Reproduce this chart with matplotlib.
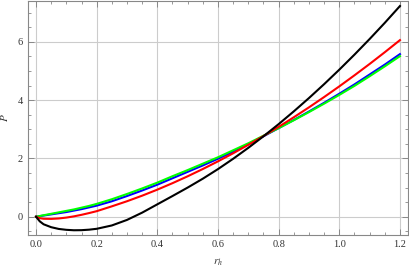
import matplotlib.pyplot as plt
from matplotlib.ticker import MultipleLocator

# values
r_h = [0.0, 0.0125, 0.025, 0.05, 0.075, 0.1, 0.125, 0.15, 0.175, 0.2, 0.25, 0.3, 0.35, 0.4,
       0.45, 0.5, 0.55, 0.6, 0.65, 0.7, 0.75, 0.8, 0.85, 0.9, 0.95, 1.0, 1.05, 1.1, 1.15, 1.2]

p_blue = [0.0, 0.02, 0.04, 0.08, 0.12, 0.16, 0.21, 0.26, 0.32, 0.38, 0.53, 0.71, 0.9, 1.1,
          1.32, 1.54, 1.76, 1.99, 2.23, 2.49, 2.76, 3.04, 3.32, 3.61, 3.91, 4.22, 4.54, 4.88, 5.22, 5.58]
p_green = [0.0, 0.025, 0.05, 0.1, 0.15, 0.2, 0.25, 0.31, 0.37, 0.44, 0.6, 0.78, 0.97, 1.17,
           1.39, 1.6, 1.82, 2.04, 2.28, 2.52, 2.78, 3.04, 3.31, 3.59, 3.88, 4.18, 4.49, 4.82, 5.16, 5.51]
p_red = [0.0, -0.05, -0.07, -0.075, -0.06, -0.03, 0.012, 0.065, 0.125, 0.19, 0.356, 0.531, 0.722, 0.929,
         1.151, 1.387, 1.637, 1.9, 2.177, 2.467, 2.769, 3.084, 3.413, 3.753, 4.107, 4.473, 4.852, 5.242, 5.645, 6.06]
p_black = [0.0, -0.16, -0.26, -0.36, -0.42, -0.45, -0.465, -0.462, -0.445, -0.415, -0.30, -0.11, 0.14, 0.425,
           0.71, 1.0, 1.305, 1.634, 1.988, 2.364, 2.76, 3.177, 3.615, 4.072, 4.549, 5.046, 5.562, 6.098, 6.653, 7.23]

plt.rcParams['font.family'] = ['Liberation Serif', 'DejaVu Serif']
plt.rcParams['mathtext.fontset'] = 'stix'

fig = plt.figure(figsize=(4.09, 2.72), dpi=100)
ax = fig.add_axes([0.0685, 0.136, 0.929, 0.86])

ax.plot(r_h, p_blue, color='#0000ff', lw=1.5)
ax.plot(r_h, p_green, color='#00ff00', lw=1.5)
ax.plot(r_h, p_red, color='#ff0000', lw=1.5)
ax.plot(r_h, p_black, color='black', lw=1.5)

ax.set_xlim(-0.0264, 1.2265)
ax.set_ylim(-0.628, 7.40)

ax.xaxis.set_major_locator(MultipleLocator(0.2))
ax.xaxis.set_minor_locator(MultipleLocator(0.05))
ax.yaxis.set_major_locator(MultipleLocator(2))
ax.yaxis.set_minor_locator(MultipleLocator(0.5))
ax.set_xticks([0, 0.2, 0.4, 0.6, 0.8, 1.0, 1.2])
ax.set_xticklabels(['0.0', '0.2', '0.4', '0.6', '0.8', '1.0', '1.2'])
ax.set_yticks([0, 2, 4, 6])

ax.grid(True, which='major', color='#cccccc', lw=0.8)
ax.set_axisbelow(True)
for s in ax.spines.values():
    s.set_color('#888888')
    s.set_linewidth(0.8)
ax.tick_params(which='both', direction='in', top=True, right=True, colors='#888888',
               labelcolor='#333333', labelsize=7.5)
ax.tick_params(which='major', length=4, width=0.7)
ax.tick_params(which='minor', length=2, width=0.6)

ax.set_xlabel('$r_h$', fontsize=8, color='#333333', labelpad=6)
ax.set_ylabel('$P$', fontsize=8, color='#333333', labelpad=6)

plt.savefig('out.png', dpi=100)
